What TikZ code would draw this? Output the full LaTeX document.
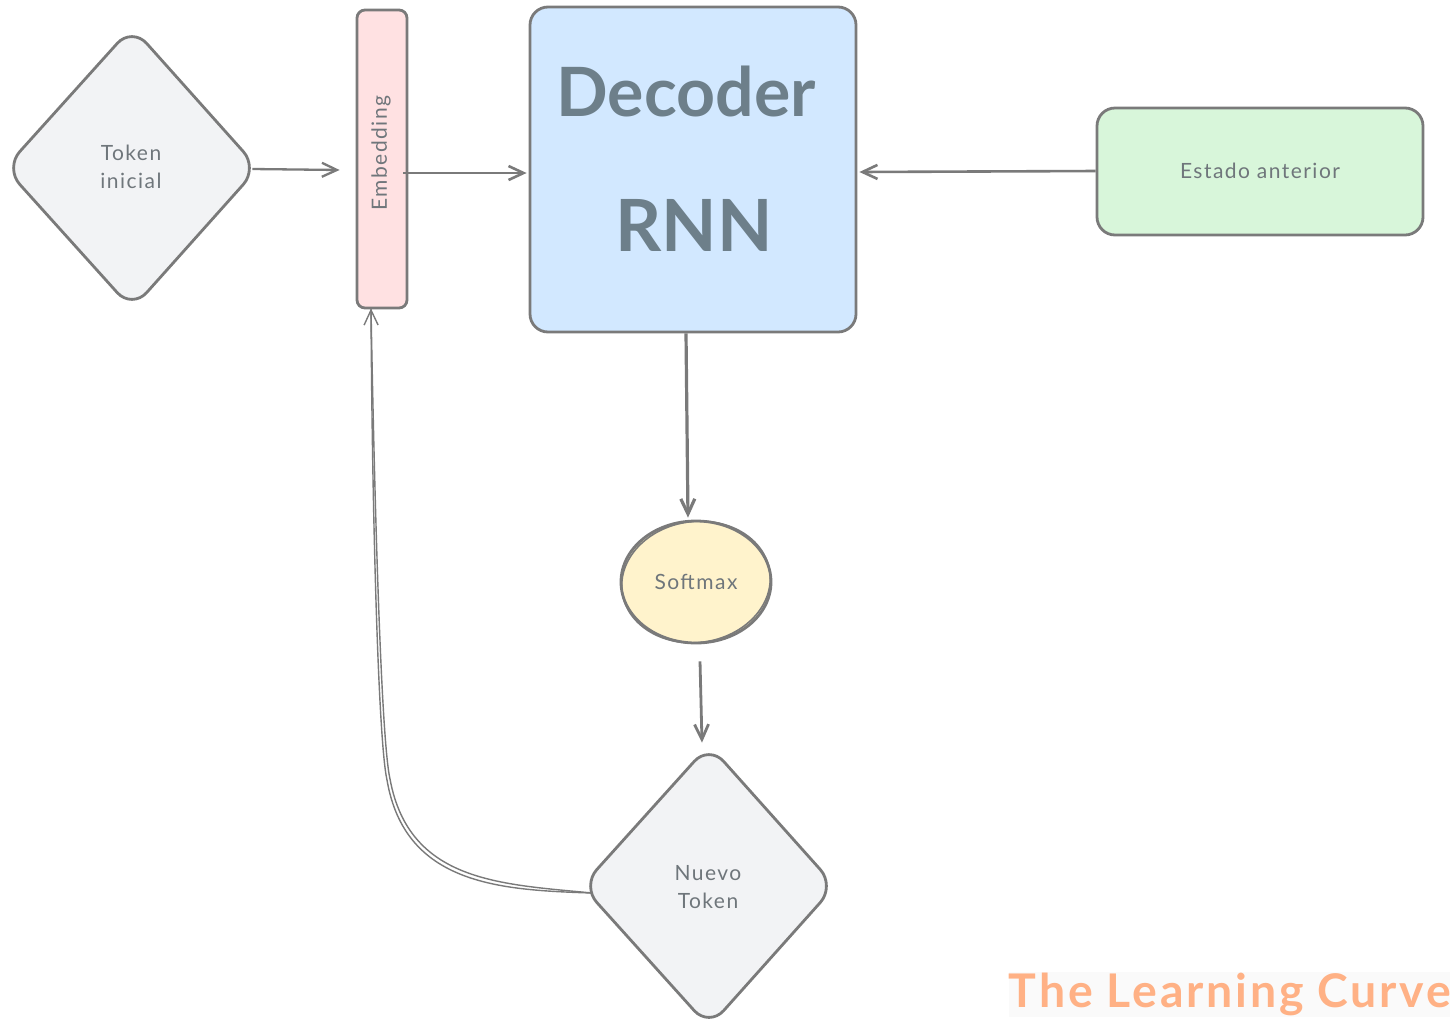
\documentclass[tikz,border=0pt]{standalone}
\usepackage{fontspec}
\setmainfont{Lato}
\newfontfamily\handfont[LetterSpace=7]{Lato}
\newfontfamily\brandfont[LetterSpace=6]{Lato}
\definecolor{ink}{HTML}{7A7A7A}
\definecolor{txt}{HTML}{6F767B}
\definecolor{bigtxt}{HTML}{6D7F8A}
\definecolor{brandc}{HTML}{FFB185}
\definecolor{brandbg}{HTML}{FAFAFA}
\definecolor{diamondc}{HTML}{F2F3F5}
\definecolor{embc}{HTML}{FFE1E2}
\definecolor{decc}{HTML}{D2E8FF}
\definecolor{estc}{HTML}{D8F6DA}
\definecolor{softc}{HTML}{FFF3CC}
\usetikzlibrary{arrows.meta}
\tikzset{
  x=0.5pt,y=-0.5pt,
  outl/.style={draw=ink,line width=1.4pt,line join=round},
  flow/.style={draw=ink,line width=1.15pt,-{Straight Barb[length=7.5pt,width=7pt]}},
  small/.style={text=txt,font=\handfont\fontsize{10.5}{14}\selectfont,align=center,inner sep=0pt},
  big/.style={text=bigtxt,font=\bfseries\fontsize{34}{40}\selectfont,align=center,inner sep=0pt},
  anchorpt/.style={inner sep=0pt,minimum size=0pt}
}
\begin{document}
\begin{tikzpicture}
\useasboundingbox (0,0) rectangle (1456,1034);
\fill[white] (0,0) rectangle (1456,1034);
\fill[brandbg] (1009,972) rectangle (1450,1017);
% shapes
\path[outl,fill=diamondc,rounded corners=11pt] (132,27) -- (258,168) -- (132,309) -- (5,168) -- cycle;
\path[outl,fill=embc,rounded corners=4pt] (357,10) rectangle (407,308);
\path[outl,fill=decc,rounded corners=9pt] (530,7) rectangle (856,332);
\path[outl,fill=estc,rounded corners=9pt] (1097,108) rectangle (1423,235);
\path[outl,fill=softc] (696,582) ellipse [x radius=75,y radius=61];
\path[draw=ink,line width=0.8pt] (696,582) ellipse [x radius=74.5,y radius=60.5,rotate=8];
\path[outl,fill=diamondc,rounded corners=11pt] (709,745) -- (835,886) -- (709,1027) -- (582,886) -- cycle;
% named nodes
\node[anchorpt] (tokenE) at (252,169) {};
\node[anchorpt] (embW) at (340,170) {};
\node[anchorpt] (embE) at (403,173) {};
\node[anchorpt] (decW) at (527,173) {};
\node[anchorpt] (decE) at (859,172) {};
\node[anchorpt] (estW) at (1096,171) {};
\node[anchorpt] (decS) at (686,333) {};
\node[anchorpt] (softN) at (688,518) {};
\node[anchorpt] (softS) at (700,661) {};
\node[anchorpt] (nuevoN) at (702,743) {};
\node[anchorpt] (nuevoW) at (592,893) {};
\node[anchorpt] (embS) at (371,308) {};
% connectors
\draw[flow] (tokenE) -- (embW);
\draw[flow,line width=1.3pt] (embE) -- (decW);
\draw[flow,line width=1.3pt] (estW) -- (decE);
\draw[flow,line width=1.6pt] (decS) -- (softN);
\draw[flow,line width=1.4pt] (softS) -- (nuevoN);
\draw[flow,line width=0.7pt] (nuevoW) .. controls (500,890) and (405,885) .. (387,780) .. controls (378,740) and (372,500) .. (embS);
\draw[draw=ink,line width=0.7pt] (nuevoW) .. controls (500,884) and (409,882) .. (390,779) .. controls (381,739) and (374.5,500) .. (embS);
% labels
\node[small] (token) at (131,167) {Token\\inicial};
\node[small,rotate=90] (emb) at (381,153) {Embedding};
\node[big] (dec1) at (686,91) {Decoder};
\node[big,font=\bfseries\fontsize{36}{40}\selectfont] (dec2) at (694,225) {RNN};
\node[small] (est) at (1260,171) {Estado anterior};
\node[small] (soft) at (696,582) {Softmax};
\node[small] (nuevo) at (708,887) {Nuevo\\Token};
\node[text=brandc,font=\brandfont\bfseries\fontsize{23.2}{28}\selectfont,inner sep=0pt] (brand) at (1230,994) {The Learning Curve};
\end{tikzpicture}
\end{document}
